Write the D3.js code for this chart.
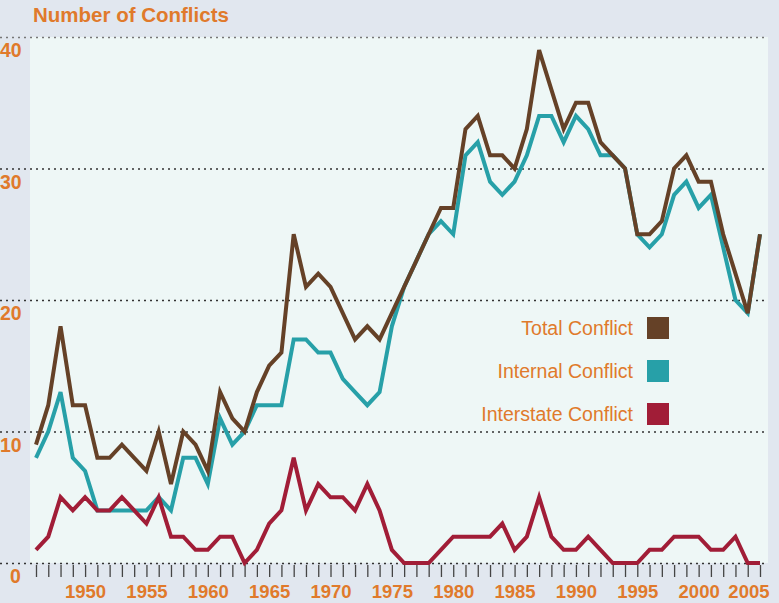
<!DOCTYPE html>
<html>
<head>
<meta charset="utf-8">
<script src="https://cdn.jsdelivr.net/npm/d3@7"></script>
<style>
  body { margin: 0; background: #e1e7ef; }
  svg { display: block; font-family: "Liberation Sans", Arial, Helvetica, sans-serif; }
</style>
</head>
<body>
<svg id="chart" width="779" height="603"></svg>
<script>
// years 1946..2005
const years = d3.range(1946, 2006)

const totalConflict = [
  9, 12, 18, 12, 12, 8, 8, 9, 8, 7,
  10, 6, 10, 9, 7, 13, 11, 10, 13, 15,
  16, 25, 21, 22, 21, 19, 17, 18, 17, 19,
  21, 23, 25, 27, 27, 33, 34, 31, 31, 30,
  33, 39, 36, 33, 35, 35, 32, 31, 30, 25,
  25, 26, 30, 31, 29, 29, 25, 22, 19, 25
]
const internalConflict = [
  8, 10, 13, 8, 7, 4, 4, 4, 4, 4,
  5, 4, 8, 8, 6, 11, 9, 10, 12, 12,
  12, 17, 17, 16, 16, 14, 13, 12, 13, 18,
  21, 23, 25, 26, 25, 31, 32, 29, 28, 29,
  31, 34, 34, 32, 34, 33, 31, 31, 30, 25,
  24, 25, 28, 29, 27, 28, 24, 20, 19, 25
]
const interstateConflict = [
  1, 2, 5, 4, 5, 4, 4, 5, 4, 3,
  5, 2, 2, 1, 1, 2, 2, 0, 1, 3,
  4, 8, 4, 6, 5, 5, 4, 6, 4, 1,
  0, 0, 0, 1, 2, 2, 2, 2, 3, 1,
  2, 5, 2, 1, 1, 2, 1, 0, 0, 0,
  1, 1, 2, 2, 2, 1, 1, 2, 0, 0
]
const yTicks = [0, 10, 20, 30, 40]

const series = [
  { name: 'Internal Conflict', values: internalConflict, color: '#27a0a8' },
  { name: 'Interstate Conflict', values: interstateConflict, color: '#a11d37' },
  { name: 'Total Conflict', values: totalConflict, color: '#654127' },
]
const legendOrder = ['Total Conflict', 'Internal Conflict', 'Interstate Conflict']
const orange = '#e07a2b'

const svg = d3.select('#chart')

const x = d3.scaleLinear().domain([1946, 2005]).range([36, 760])
const y = d3.scaleLinear().domain([0, 40]).range([563, 37])

// panel
svg.append('rect')
  .attr('x', 30).attr('y', y(40))
  .attr('width', 738).attr('height', y(0) - y(40))
  .attr('fill', '#eef7f6')

// title
svg.append('text')
  .attr('x', 33).attr('y', 22)
  .attr('fill', orange)
  .style('font-size', '20.5px').style('font-weight', 'bold')
  .text('Number of Conflicts')

// grid + y labels
const grid = svg.append('g')
grid.selectAll('line').data(yTicks).enter().append('line')
  .attr('x1', 0).attr('x2', 768)
  .attr('y1', d => y(d) + 0.5).attr('y2', d => y(d) + 0.5)
  .attr('stroke', d => d === 40 ? '#777' : '#333')
  .attr('stroke-width', 1.3)
  .attr('stroke-dasharray', '2,4')

grid.selectAll('text').data(yTicks).enter().append('text')
  .attr('x', d => d === 0 ? 10 : 0)
  .attr('y', d => y(d) + 20)
  .attr('fill', orange)
  .style('font-size', '19.5px').style('font-weight', 'bold')
  .text(d => d)

// x axis
const xAxis = svg.append('g')
  .attr('transform', 'translate(0,565)')
  .call(d3.axisBottom(x)
    .tickValues(years)
    .tickSize(12)
    .tickPadding(8)
    .tickFormat(d => d % 5 === 0 ? d : ''))
xAxis.select('.domain').remove()
xAxis.selectAll('.tick line').attr('stroke', '#444').attr('stroke-width', 1.3)
xAxis.selectAll('.tick text')
  .attr('fill', orange)
  .style('font-size', '18.5px').style('font-weight', 'bold')
  .style('font-family', '"Liberation Sans", Arial, sans-serif')
  .filter(d => d === 2005)
  .attr('text-anchor', 'end').attr('dx', 9)

// lines
const line = d3.line()
  .x((d, i) => x(years[i]))
  .y(d => y(d))

svg.append('g').selectAll('path').data(series).enter().append('path')
  .attr('d', d => line(d.values))
  .attr('fill', 'none')
  .attr('stroke', d => d.color)
  .attr('stroke-width', 4)
  .attr('stroke-linejoin', 'miter')

// legend
const legend = svg.append('g')
const rows = legend.selectAll('g')
  .data(legendOrder.map(n => series.find(s => s.name === n)))
  .enter().append('g')
  .attr('transform', (d, i) => `translate(0,${328 + i * 43})`)
rows.append('text')
  .attr('x', 633).attr('y', 7)
  .attr('text-anchor', 'end')
  .attr('fill', orange)
  .style('font-size', '19.5px')
  .text(d => d.name)
rows.append('rect')
  .attr('x', 647).attr('y', -11)
  .attr('width', 22).attr('height', 22)
  .attr('fill', d => d.color)
</script>
</body>
</html>
